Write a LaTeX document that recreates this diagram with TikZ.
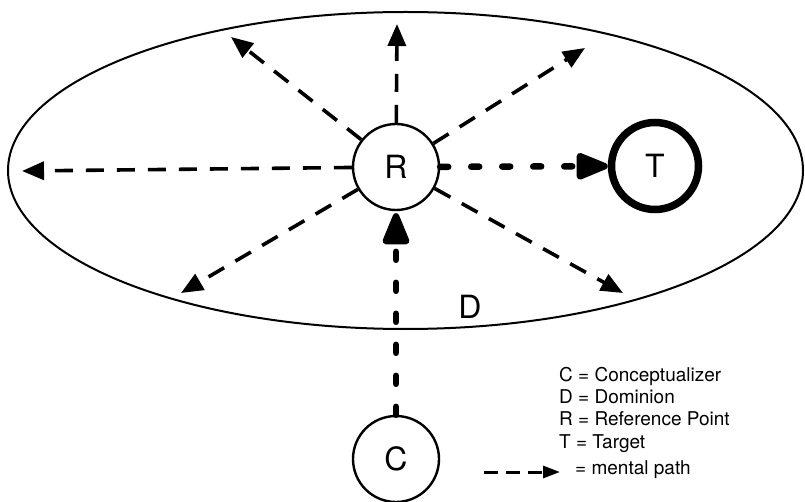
\documentclass[tikz,border=0pt]{standalone}
\usepackage{fontspec}
\setmainfont{TeX Gyre Heros}
\usetikzlibrary{arrows.meta}
\begin{document}
\begin{tikzpicture}[x=1pt,y=-1pt,
  circ/.style={circle,draw,line width=2.4pt,minimum size=86pt,inner sep=0pt,font=\fontsize{32}{32}\selectfont},
  thickcirc/.style={circ,line width=7.5pt,minimum size=87pt},
  bigletter/.style={inner sep=0pt,font=\fontsize{32}{32}\selectfont},
  legtext/.style={anchor=base west,inner sep=0pt,font=\fontsize{19}{22}\selectfont},
  mpath/.style={line width=3.6pt,dash pattern=on 18pt off 13pt,-{Triangle[length=22pt,width=18pt]}},
  thickpath/.style={line width=6.5pt,line cap=round,dash pattern=on 8pt off 23pt,-{Triangle[length=37pt,width=28pt,round=false]}},
  legarrow/.style={line width=3pt,dash pattern=on 14pt off 8pt,-{Triangle[length=17pt,width=12pt]}}
]
\useasboundingbox (0,0) rectangle (805,502);
% dominion
\draw[line width=2pt] (405.5,170.5) ellipse [x radius=397.5pt, y radius=158.5pt];
% circles
\node[circ] (R) at (396,167) {R};
\node[thickcirc] (T) at (655,166) {T};
\node[circ] (C) at (396,459) {C};
\node[bigletter] (D) at (470,307) {D};
% arrow tips
\coordinate (tU) at (397,24);
\coordinate (tUL) at (231,37);
\coordinate (tUR) at (585,48);
\coordinate (tL) at (22,171);
\coordinate (tDL) at (181,293);
\coordinate (tDR) at (623,293);
\draw[mpath] (R) -- (tU);
\draw[mpath] (R) -- (tUL);
\draw[mpath] (R) -- (tUR);
\draw[mpath] (R) -- (tL);
\draw[mpath] (R) -- (tDL);
\draw[mpath] (R) -- (tDR);
\draw[thickpath] (R) -- (T);
\draw[thickpath,shorten >=2pt] (C) -- (R);
% legend
\node[legtext] (l1) at (559,381) {C = Conceptualizer};
\node[legtext] (l2) at (559,403) {D = Dominion};
\node[legtext] (l3) at (559,425.5) {R = Reference Point};
\node[legtext] (l4) at (559,448) {T = Target};
\coordinate (la) at (484,472);
\coordinate (lb) at (560,472);
\draw[legarrow] (la) -- (lb);
\node[legtext] (l5) at (575,474) {= mental path};
\end{tikzpicture}
\end{document}
